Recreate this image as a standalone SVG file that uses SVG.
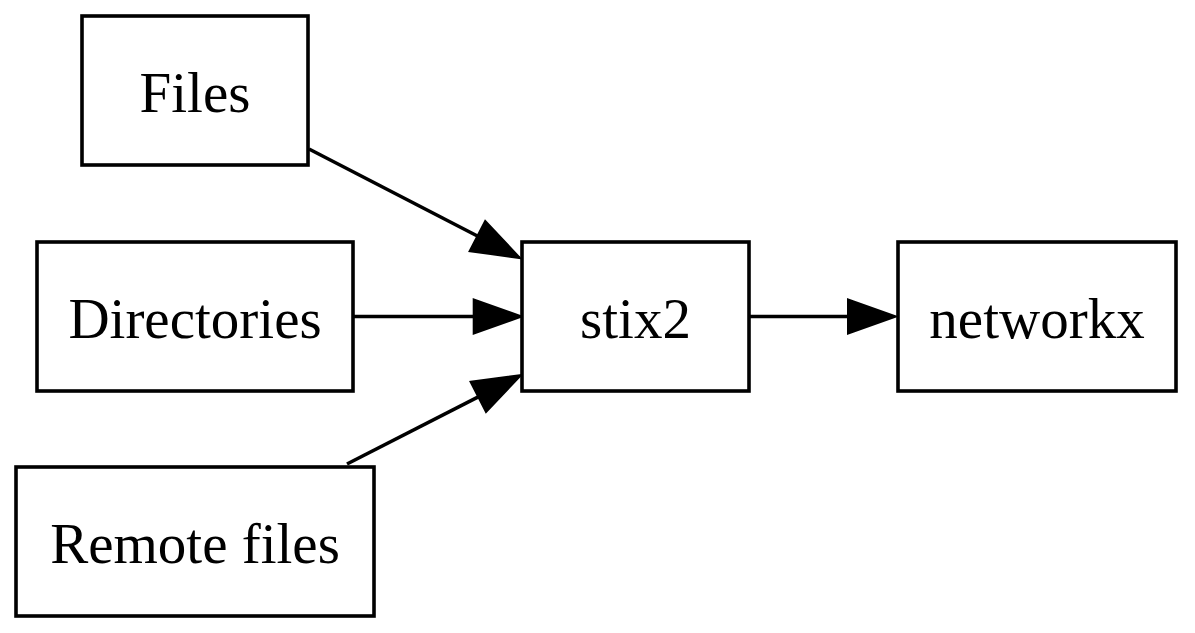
<svg xmlns="http://www.w3.org/2000/svg" width="1195" height="633" viewBox="0 0 1195 633">
  <style>
    .box { fill: #ffffff; stroke: #000000; stroke-width: 3.6; }
    .label { font-family: "Liberation Serif", "Times New Roman", serif; font-size: 57px; fill: #000000; text-anchor: middle; }
    .edge { fill: none; stroke: #000000; stroke-width: 3.6; marker-end: url(#arrow); }
  </style>
  <defs>
    <!-- filled triangular arrowhead, drawn from the end of the line forward -->
    <marker id="arrow" markerUnits="userSpaceOnUse" markerWidth="50" markerHeight="38" refX="0" refY="0" viewBox="0 -19 50 38" orient="auto" overflow="visible">
      <path d="M0,-17 L48,0 L0,17 Z" fill="#000000" stroke="#000000" stroke-width="2" stroke-linejoin="miter"/>
    </marker>
  </defs>
  <rect width="1195" height="633" fill="#ffffff"/>

  <g id="edges">
    <path class="edge" d="M309,149 L477.4,236"/>
    <path class="edge" d="M353,316.5 L473.7,316.5"/>
    <path class="edge" d="M347,464 L478.3,396.9"/>
    <path class="edge" d="M749,316.5 L848,316.5"/>
  </g>

  <g id="files">
    <rect class="box" x="82" y="16" width="226" height="149"/>
    <text class="label" x="195" y="111.5">Files</text>
  </g>
  <g id="directories">
    <rect class="box" x="37" y="242" width="316" height="149"/>
    <text class="label" x="195" y="337.5">Directories</text>
  </g>
  <g id="remote-files">
    <rect class="box" x="16" y="467" width="358" height="149"/>
    <text class="label" x="195" y="562.5">Remote files</text>
  </g>
  <g id="stix2">
    <rect class="box" x="522" y="242" width="227" height="149"/>
    <text class="label" x="635.5" y="337.5">stix2</text>
  </g>
  <g id="networkx">
    <rect class="box" x="898" y="242" width="278" height="149"/>
    <text class="label" x="1037" y="337.5">networkx</text>
  </g>
</svg>
